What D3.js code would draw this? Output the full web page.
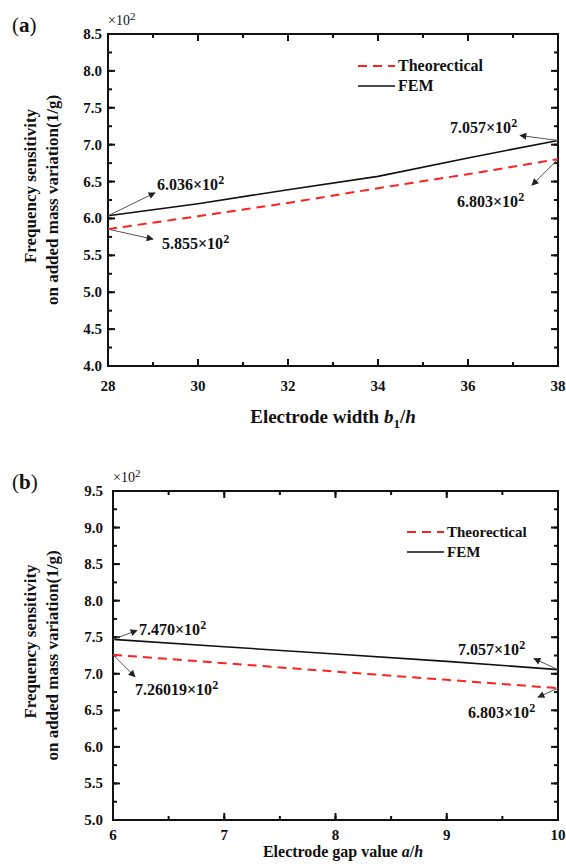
<!DOCTYPE html>
<html>
<head>
<meta charset="utf-8">
<script src="https://cdn.jsdelivr.net/npm/d3@7"></script>
<style>
  body { margin: 0; background: #fff; }
  svg text { font-family: "Liberation Serif", "Times New Roman", Times, serif; font-weight: bold; fill: #111; }
</style>
</head>
<body>
<svg id="chart" width="566" height="868"></svg>
<script>
// panel (a): electrode width b1/h
var widthX = [28, 30, 32, 34, 36, 38];
var widthFEM = [6.036, 6.20, 6.39, 6.57, 6.82, 7.057];
var widthTheo = [5.855, 6.03, 6.21, 6.41, 6.60, 6.803];
var widthXTicks = [28, 30, 32, 34, 36, 38];
var widthYTicks = [4.0, 4.5, 5.0, 5.5, 6.0, 6.5, 7.0, 7.5, 8.0, 8.5];

// panel (b): electrode gap a/h
var gapX = [6, 7, 8, 9, 10];
var gapFEM = [7.470, 7.37, 7.27, 7.17, 7.057];
var gapTheo = [7.26019, 7.145, 7.03, 6.917, 6.803];
var gapXTicks = [6, 7, 8, 9, 10];
var gapYTicks = [5.0, 5.5, 6.0, 6.5, 7.0, 7.5, 8.0, 8.5, 9.0, 9.5];

var svg = d3.select("#chart");

svg.append("defs").append("marker")
    .attr("id", "arrow")
    .attr("viewBox", "0 0 10 10")
    .attr("refX", 9).attr("refY", 5)
    .attr("markerWidth", 9).attr("markerHeight", 7)
    .attr("markerUnits", "userSpaceOnUse")
    .attr("orient", "auto")
  .append("path")
    .attr("d", "M0,0L10,5L0,10z")
    .attr("fill", "#222");

function drawPanel(cfg){
    var g = svg.append("g");
    var x = d3.scaleLinear().domain(cfg.xDomain).range([cfg.left, cfg.right]);
    var y = d3.scaleLinear().domain(cfg.yDomain).range([cfg.bottom, cfg.top]);

    var xMinor = d3.range(cfg.xDomain[0], cfg.xDomain[1] + 1e-9, cfg.xMinorStep);
    var yMinor = d3.range(cfg.yDomain[0], cfg.yDomain[1] + 1e-9, 0.25);

    // frame
    g.append("rect")
        .attr("x", cfg.left).attr("y", cfg.top)
        .attr("width", cfg.right - cfg.left).attr("height", cfg.bottom - cfg.top)
        .attr("fill", "none").attr("stroke", "#111").attr("stroke-width", 2);

    // ticks, all pointing inward
    function addTicks(vals, len, horizontal){
        vals.forEach(function(d){
            if (horizontal) {
                g.append("rect").attr("x", x(d) - 1).attr("y", cfg.bottom - len)
                    .attr("width", 2).attr("height", len).attr("fill", "#111");
                g.append("rect").attr("x", x(d) - 1).attr("y", cfg.top)
                    .attr("width", 2).attr("height", len).attr("fill", "#111");
            } else {
                g.append("rect").attr("x", cfg.left).attr("y", y(d) - 1)
                    .attr("width", len).attr("height", 2).attr("fill", "#111");
                g.append("rect").attr("x", cfg.right - len).attr("y", y(d) - 1)
                    .attr("width", len).attr("height", 2).attr("fill", "#111");
            }
        });
    }
    addTicks(xMinor, 4, true); addTicks(yMinor, 4, false);
    addTicks(cfg.xTicks, 7, true); addTicks(cfg.yTicks, 7, false);

    // tick labels
    g.selectAll(null).data(cfg.xTicks).join("text")
        .attr("x", d => x(d)).attr("y", cfg.bottom + cfg.xLabDy)
        .attr("text-anchor", "middle").style("font-size", "15px")
        .text(d3.format("d"));
    g.selectAll(null).data(cfg.yTicks).join("text")
        .attr("x", cfg.left - cfg.yPad).attr("y", d => y(d) + 5)
        .attr("text-anchor", "end").style("font-size", "15px")
        .text(d3.format(".1f"));

    // data lines
    var theo = cfg.xs.map((d, i) => [d, cfg.theo[i]]);
    var fem = cfg.xs.map((d, i) => [d, cfg.fem[i]]);
    var line = d3.line().x(d => x(d[0])).y(d => y(d[1]));

    g.append("path").datum(fem).attr("d", line)
        .attr("fill", "none").attr("stroke", "#111").attr("stroke-width", 1.6);
    g.append("path").datum(theo).attr("d", line)
        .attr("fill", "none").attr("stroke", "#ff2020").attr("stroke-width", 2)
        .attr("stroke-dasharray", "9,6");

    // legend
    var lg = g.append("g");
    lg.append("line").attr("x1", cfg.legX).attr("x2", cfg.legX + 37)
        .attr("y1", cfg.legY).attr("y2", cfg.legY)
        .attr("stroke", "#ff2020").attr("stroke-width", 2).attr("stroke-dasharray", "9,6");
    lg.append("text").attr("x", cfg.legX + 40).attr("y", cfg.legY + 5)
        .style("font-size", cfg.legFont).text("Theorectical");
    lg.append("line").attr("x1", cfg.legX).attr("x2", cfg.legX + 37)
        .attr("y1", cfg.legY + 20).attr("y2", cfg.legY + 20)
        .attr("stroke", "#111").attr("stroke-width", 1.6);
    lg.append("text").attr("x", cfg.legX + 40).attr("y", cfg.legY + 25)
        .style("font-size", cfg.legFont).text("FEM");

    // annotations
    cfg.notes.forEach(function(n){
        var px = x(n.at[0]), py = y(n.at[1]);
        g.append("line")
            .attr("x1", px).attr("y1", py)
            .attr("x2", px + n.arrow[0]).attr("y2", py + n.arrow[1])
            .attr("stroke", "#555").attr("stroke-width", 1)
            .attr("marker-end", "url(#arrow)");
        var t = g.append("text").attr("x", n.text[0]).attr("y", n.text[1])
            .style("font-size", "16px");
        t.append("tspan").text(n.label + "\u00d710");
        t.append("tspan").attr("dy", -6).style("font-size", "12px").text("2");
    });

    // x10^2 multiplier
    var m = g.append("text").attr("x", cfg.left).attr("y", cfg.top - 9)
        .style("font-size", "14px").style("font-weight", "normal");
    m.append("tspan").text("\u00d710");
    m.append("tspan").attr("dy", -5).style("font-size", "11px").text("2");

    // panel label
    var pl = g.append("text").attr("x", 12).attr("y", cfg.top - 2).style("font-size", "21px");
    pl.append("tspan").style("font-weight", "normal").text("(");
    pl.append("tspan").text(cfg.tag);
    pl.append("tspan").style("font-weight", "normal").text(")");

    // y title
    var cy = (cfg.top + cfg.bottom) / 2;
    g.append("text").attr("transform", "translate(36," + (cy - 14) + ") rotate(-90)")
        .attr("text-anchor", "middle").style("font-size", "17px")
        .text("Frequency sensitivity");
    g.append("text").attr("transform", "translate(58," + cy + ") rotate(-90)")
        .attr("text-anchor", "middle").style("font-size", "17px")
        .text("on added mass variation(1/g)");

    // x title
    var xt = g.append("text").attr("x", cfg.xTitleX).attr("y", cfg.xTitleY)
        .attr("text-anchor", "middle").style("font-size", cfg.xTitleFont);
    cfg.xTitle.forEach(function(p){
        var s = xt.append("tspan").text(p.t);
        if (p.it) s.style("font-style", "italic");
        if (p.sub) s.attr("dy", 5).style("font-size", "13px");
        if (p.up) s.attr("dy", -5);
    });
}

drawPanel({
    tag: "a",
    left: 108, right: 558, top: 34, bottom: 366,
    xDomain: [28, 38], yDomain: [4.0, 8.5], xMinorStep: 1,
    xTicks: widthXTicks, yTicks: widthYTicks, xLabDy: 25, yPad: 6,
    xs: widthX, fem: widthFEM, theo: widthTheo,
    legX: 358, legY: 66, legFont: "16px",
    notes: [
        {at: [28, 6.036], arrow: [47, -23], text: [157, 190], label: "6.036"},
        {at: [28, 5.855], arrow: [45, 10], text: [162, 249], label: "5.855"},
        {at: [38, 7.057], arrow: [-38, -5], text: [450, 133], label: "7.057"},
        {at: [38, 6.803], arrow: [-26, 26], text: [457, 207], label: "6.803"}
    ],
    xTitleX: 333, xTitleY: 423, xTitleFont: "19px",
    xTitle: [{t: "Electrode width "}, {t: "b", it: true}, {t: "1", sub: true}, {t: "/", up: true}, {t: "h", it: true}]
});

drawPanel({
    tag: "b",
    left: 113, right: 558, top: 491, bottom: 820,
    xDomain: [6, 10], yDomain: [5.0, 9.5], xMinorStep: 0.5,
    xTicks: gapXTicks, yTicks: gapYTicks, xLabDy: 20, yPad: 10,
    xs: gapX, fem: gapFEM, theo: gapTheo,
    legX: 407, legY: 532, legFont: "15px",
    notes: [
        {at: [6, 7.470], arrow: [24, -9], text: [139, 635], label: "7.470"},
        {at: [6, 7.26019], arrow: [22, 22], text: [135, 695], label: "7.26019"},
        {at: [10, 7.057], arrow: [-24, -11], text: [458, 655], label: "7.057"},
        {at: [10, 6.803], arrow: [-20, 9], text: [468, 718], label: "6.803"}
    ],
    xTitleX: 343, xTitleY: 857, xTitleFont: "16px",
    xTitle: [{t: "Electrode gap value "}, {t: "a", it: true}, {t: "/"}, {t: "h", it: true}]
});
</script>
</body>
</html>
